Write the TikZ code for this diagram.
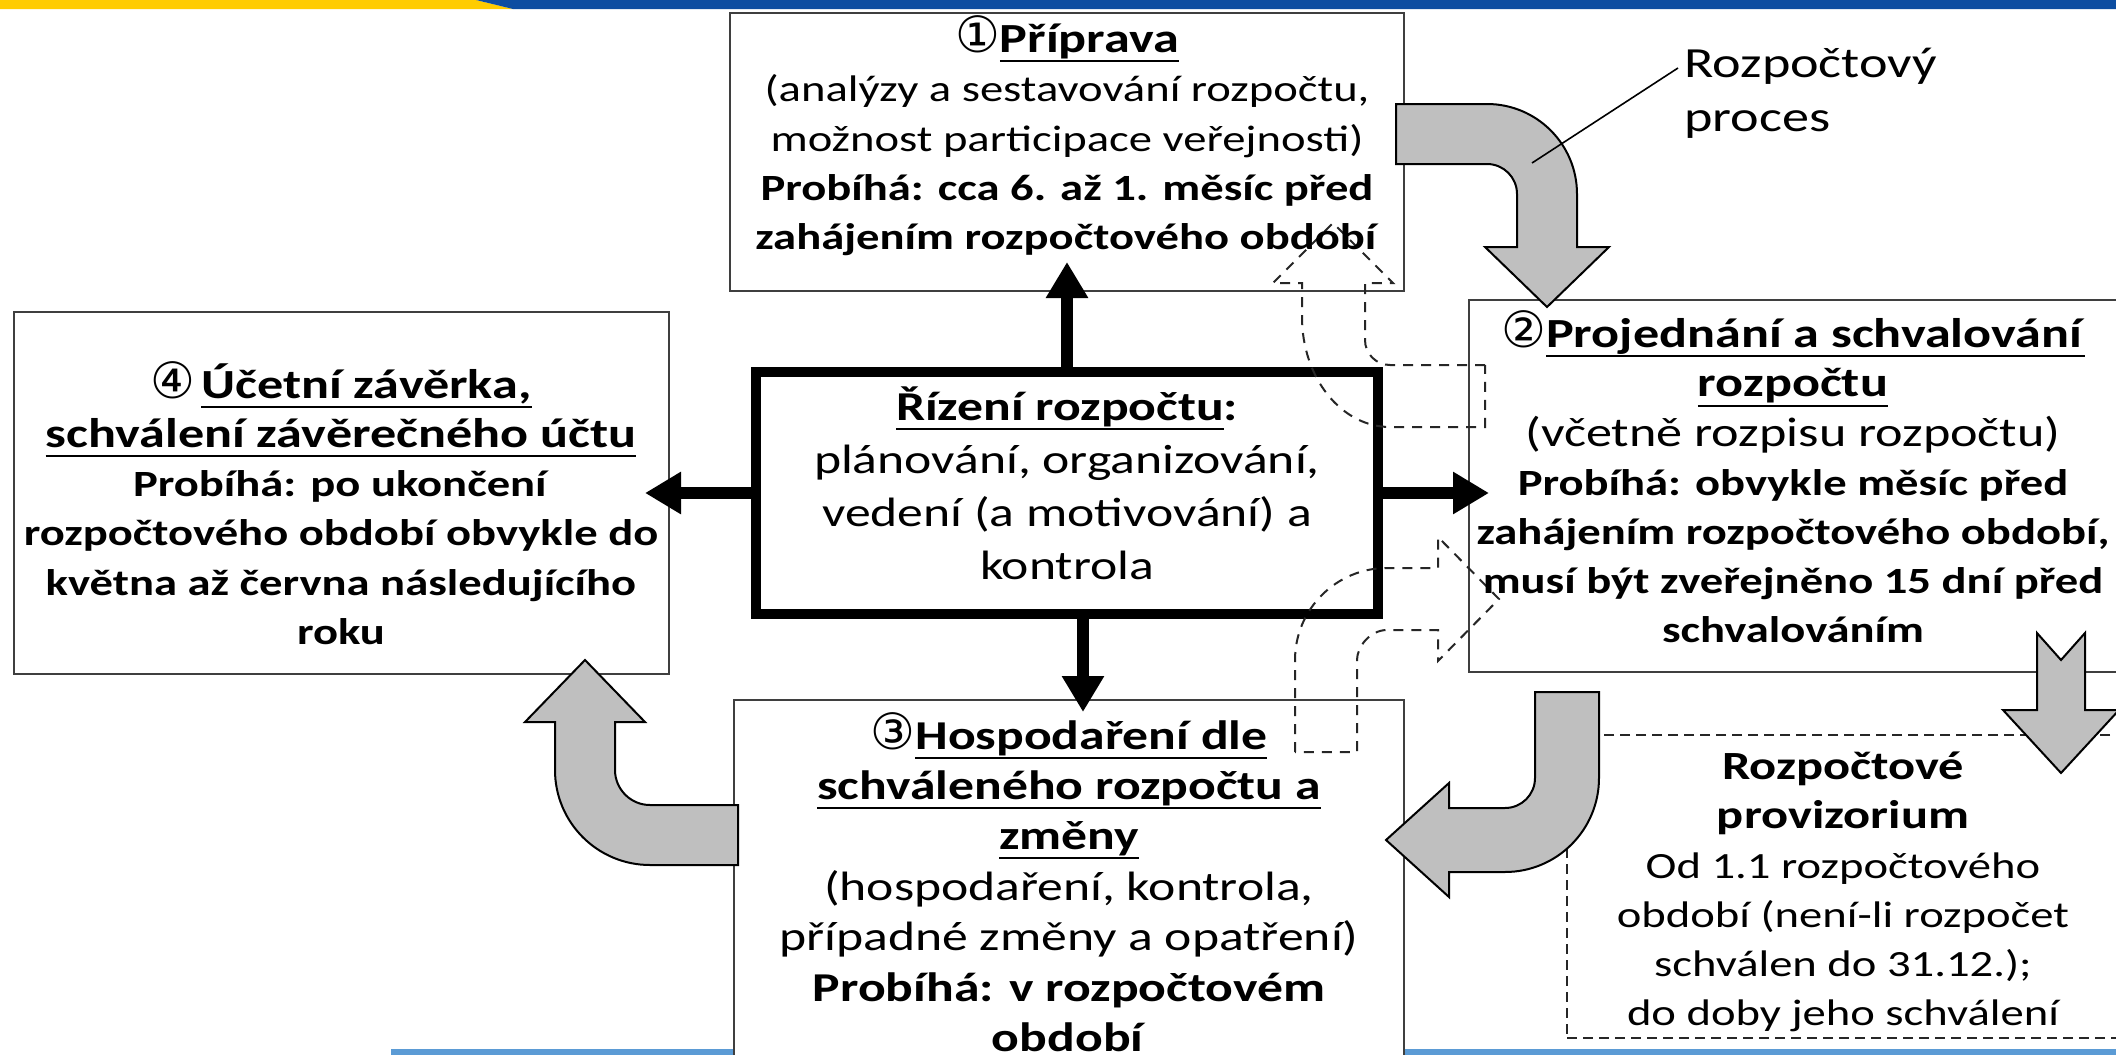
\documentclass[tikz,border=0pt]{standalone}
\usepackage{fontspec}
\setmainfont{Carlito}[FakeStretch=1.26]
\newfontfamily\circfont{DejaVu Sans}
\usetikzlibrary{arrows.meta}
\newsavebox\ulbox
\newcommand\myul[1]{\sbox\ulbox{#1}\rlap{\rule[-4.8pt]{\wd\ulbox}{1pt}}\usebox\ulbox}
\newcommand\cn[1]{\smash{\circfont\fontsize{25}{25}\selectfont #1}}
\newcommand\hfs{\fontsize{20.7}{24.6}\selectfont}
\definecolor{arrowgray}{HTML}{BFBFBF}
\definecolor{boxline}{HTML}{3F3F3F}
\definecolor{topyellow}{HTML}{FFCC00}
\definecolor{topblue}{HTML}{0D4DA1}
\definecolor{botblue}{HTML}{5B9BD5}
\begin{document}
\begin{tikzpicture}[x=0.5pt,y=-0.5pt,
  box/.style={draw=boxline, line width=1pt, fill=white, inner sep=0pt, outer sep=0.5pt},
  txt/.style={align=center, inner sep=0pt, font=\fontsize{18.5}{24.6}\selectfont},
  grayarrow/.style={fill=arrowgray, draw=black, line width=1pt, line join=miter},
  dasharrow/.style={draw=black!85, line width=1pt, dash pattern=on 5pt off 4pt},
  blk/.style={line width=6pt, -{Triangle[length=18pt,width=20pt]}},
]
\useasboundingbox (0,0) rectangle (2116,1055);
\clip (0,0) rectangle (2116,1055);
\fill[white] (0,0) rectangle (2116,1055);
% bands
\fill[topyellow] (0,0) -- (476,0) -- (513,9) -- (0,9) -- cycle;
\fill[topblue] (476,0) -- (2116,0) -- (2116,9) -- (513,9) -- cycle;
\fill[botblue] (391,1049) rectangle (2116,1055);
% boxes
\node[box, minimum width=337pt, minimum height=139pt] (B1) at (1067,152) {};
\node[box, minimum width=324pt, minimum height=186pt] (B2) at (1793,486) {};
\node[box, minimum width=335pt, minimum height=190pt] (B3) at (1069,890) {};
\node[box, minimum width=327.5pt, minimum height=181pt] (B4) at (341.5,493) {};
\node[draw=black!85, line width=1pt, dash pattern=on 5pt off 3pt, inner sep=0pt,
      minimum width=276pt, minimum height=151.5pt] (P) at (1843,886.5) {};
\node[draw=black, line width=5pt, fill=white, inner sep=0pt, outer sep=2.5pt,
      minimum width=311pt, minimum height=121pt] (C) at (1067,493) {};
% dashed outline arrows
\draw[dasharrow] (1485,365) -- (1390,365) .. controls (1376.2,365) and (1365,353.8) .. (1365,340)
  -- (1365,283) -- (1393,283) -- (1333,223) -- (1273,283) -- (1302,283) -- (1302,317)
  .. controls (1302,377.8) and (1341.4,427) .. (1390,427) -- (1485,427) -- cycle;
\draw[dasharrow] (1295,752) -- (1295,660) .. controls (1295,609.2) and (1336.2,568) .. (1387,568)
  -- (1438,568) -- (1438,537) -- (1499,599) -- (1438,661) -- (1438,630) -- (1387,630)
  .. controls (1370.4,630) and (1357,646.4) .. (1357,660) -- (1357,752) -- cycle;
% gray block arrows
\draw[grayarrow] (1396,104) -- (1487,104) .. controls (1536.7,104) and (1577,144.3) .. (1577,194)
  -- (1577,247) -- (1609,247) -- (1547,307) -- (1485,247) -- (1517,247) -- (1517,194)
  .. controls (1517,177.4) and (1503.6,164) .. (1487,164) -- (1396,164) -- cycle;
\draw[grayarrow] (1535,692) -- (1599,692) -- (1599,778) .. controls (1599,829.9) and (1556.9,872) .. (1505,872)
  -- (1449,872) -- (1449,897) -- (1386,840) -- (1449,783) -- (1449,808) -- (1505,808)
  .. controls (1521.6,808) and (1535,794.6) .. (1535,778) -- cycle;
\draw[grayarrow] (738,805) -- (650,805) .. controls (630.7,805) and (615,789.3) .. (615,770)
  -- (615,722) -- (645,722) -- (585,660) -- (525,722) -- (555,722) -- (555,770)
  .. controls (555,822.5) and (597.5,865) .. (650,865) -- (738,865) -- cycle;
\draw[grayarrow] (2037,633) -- (2061,660) -- (2085,633) -- (2085,710) -- (2119,710)
  -- (2061,773) -- (2003,710) -- (2037,710) -- cycle;
% black arrows
\draw[blk, shorten >=-15pt] (C.north) -- (C.north |- B1.south);
\draw[blk, shorten >=-6.5pt] ([xshift=8pt]C.south) -- ([xshift=8pt]C.south |- B3.north);
\draw[blk, shorten >=-10.5pt] (C.east) -- (C.east -| B2.west);
\draw[blk, shorten >=-12.5pt] (C.west) -- (C.west -| B4.east);
% texts
\node[txt] (T1) at (1067,140) {\cn{①}{\hfs\myul{\textbf{Příprava}}}\\(analýzy a sestavování rozpočtu,\\možnost participace veřejnosti)\\\textbf{Probíhá: cca 6. až 1. měsíc před}\\\textbf{zahájením rozpočtového období}};
\node[txt] (T2) at (1793,481) {\cn{②}{\hfs\myul{\textbf{Projednání a schvalování}}}\\{\hfs\myul{\textbf{rozpočtu}}}\\{\hfs(včetně rozpisu rozpočtu)}\\\textbf{Probíhá: obvykle měsíc před}\\\textbf{zahájením rozpočtového období,}\\\textbf{musí být zveřejněno 15 dní před}\\\textbf{schvalováním}};
\node[txt, font=\fontsize{20.5}{25.2}\selectfont] (T3) at (1069,886) {\cn{③}\myul{\textbf{Hospodaření dle}}\\\myul{\textbf{schváleného rozpočtu a}}\\\myul{\textbf{změny}}\\(hospodaření, kontrola,\\případné změny a opatření)\\\textbf{Probíhá: v rozpočtovém}\\\textbf{období}};
\node[txt] (T4) at (341,504) {\cn{④}\,{\hfs\myul{\textbf{Účetní závěrka,}}}\\{\hfs\myul{\textbf{schválení závěrečného účtu}}}\\\textbf{Probíhá: po ukončení}\\\textbf{rozpočtového období obvykle do}\\\textbf{května až června následujícího}\\\textbf{roku}};
\node[txt, font=\fontsize{20.5}{26.5}\selectfont] (TC) at (1067,483) {\myul{\textbf{Řízení rozpočtu}}\textbf{:}\\plánování, organizování,\\vedení (a motivování) a\\kontrola};
\node[txt] (TP) at (1843,892) {{\fontsize{20}{24}\selectfont\textbf{Rozpočtové}}\\{\fontsize{20}{24}\selectfont\textbf{provizorium}}\\Od 1.1 rozpočtového\\období (není-li rozpočet\\schválen do 31.12.);\\do doby jeho schválení};
% label
\node[align=left, anchor=west, inner sep=0pt, font=\fontsize{21.5}{27}\selectfont] (L) at (1684,93) {Rozpočtový\\proces};
\coordinate (Lstart) at (1678,68);
\coordinate (Lend) at (1532,163);
\draw[line width=0.8pt] (Lstart) -- (Lend);
\end{tikzpicture}
\end{document}
